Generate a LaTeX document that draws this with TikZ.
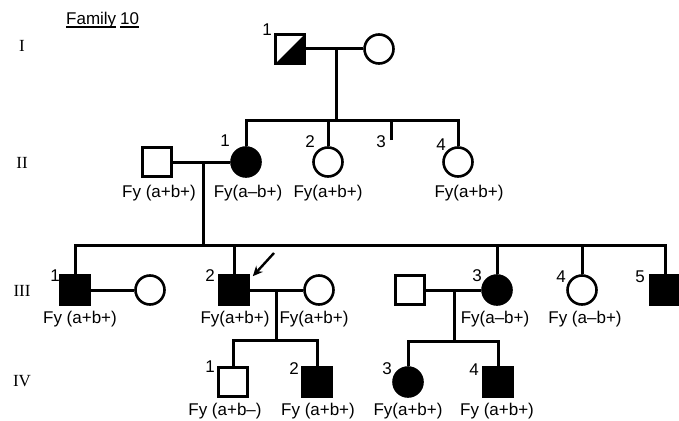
\documentclass[tikz,border=0pt]{standalone}
\usepackage{fontspec}
\setmainfont{Liberation Sans}
\newfontfamily\romf{Liberation Serif}
\usetikzlibrary{arrows.meta}
\begin{document}
\begin{tikzpicture}[x=1pt,y=-1pt,
  male/.style={draw, line width=2.6pt, rectangle, minimum size=29pt, inner sep=0pt},
  female/.style={draw, line width=2.6pt, circle, minimum size=29pt, inner sep=0pt},
  aff/.style={fill=black},
  num/.style={font=\fontsize{17}{17}\selectfont, inner sep=0pt},
  fy/.style={font=\fontsize{17}{17}\selectfont, inner sep=0pt},
  gen/.style={font=\romf\fontsize{17}{17}\selectfont, inner sep=0pt},
  conn/.style={line width=3pt}]
\useasboundingbox (0,0) rectangle (679,420);

% title
\node[fy, anchor=base west] (fam) at (66,25) {Family};
\node[fy, anchor=base west] (ten) at (120,25) {10};
\draw[line width=1.5pt] ([yshift=-2pt]fam.base west) -- ([yshift=-2pt]fam.base east);
\draw[line width=1.5pt] ([yshift=-2pt]ten.base west) -- ([yshift=-2pt]ten.base east);

% generation labels
\node[gen] (gI) at (22,46) {I};
\node[gen] (gII) at (22,163) {II};
\node[gen] (gIII) at (22,291) {III};
\node[gen] (gIV) at (22,381) {IV};

% Generation I
\node[male] (i1) at (290,49) {};
\fill (i1.south west) -- (i1.south east) -- (i1.north east) -- cycle;
\node[female] (i2) at (379,49) {};
\node[num] (n-i1) at (267,30) {1};
\draw[conn] (i1.east) -- (i2.west);
\coordinate (m1) at (336,49);
\coordinate (s2) at (336,120);
\draw[conn] (m1) -- (s2);

% Generation II
\node[male] (ii0) at (157,162) {};
\node[female, aff] (ii1) at (246,162) {};
\node[female] (ii2) at (328,162) {};
\coordinate (ii3) at (391,140);
\node[female] (ii4) at (458,162) {};
\draw[conn] (ii1.north) -- (ii1.north |- s2) -- (ii4.north |- s2) -- (ii4.north);
\draw[conn] (ii2.north) -- (ii2.north |- s2);
\draw[conn] (ii3) -- (ii3 |- s2);
\draw[conn] (ii0.east) -- (ii1.west);
\node[num] (n-ii1) at (225,141) {1};
\node[num] (n-ii2) at (310,142) {2};
\node[num] (n-ii3) at (381,142) {3};
\node[num] (n-ii4) at (441,145) {4};
\node[fy] (f-ii0) at (159,193) {Fy (a+b+)};
\node[fy] (f-ii1) at (248,193) {Fy(a–b+)};
\node[fy] (f-ii2) at (328,193) {Fy(a+b+)};
\node[fy] (f-ii4) at (469,193) {Fy(a+b+)};
\coordinate (m2) at (203,162);
\coordinate (s3) at (203,245);
\draw[conn] (m2) -- (s3);

% Generation III
\node[male, aff] (iii1) at (75,290) {};
\node[female] (iii1s) at (150,290) {};
\node[male, aff] (iii2) at (234,290) {};
\node[female] (iii2s) at (319,290) {};
\node[male] (iii3s) at (410,290) {};
\node[female, aff] (iii3) at (497,290) {};
\node[female] (iii4) at (582,290) {};
\node[male, aff] (iii5) at (665,290) {};
\draw[conn] (iii1.north) -- (iii1.north |- s3) -- (iii5.north |- s3) -- (iii5.north);
\draw[conn] (iii2.north) -- (iii2.north |- s3);
\draw[conn] (iii3.north) -- (iii3.north |- s3);
\draw[conn] (iii4.north) -- (iii4.north |- s3);
\draw[conn] (iii1.east) -- (iii1s.west);
\draw[conn] (iii2.east) -- (iii2s.west);
\draw[conn] (iii3s.east) -- (iii3.west);
\node[num] (n-iii1) at (55,276) {1};
\node[num] (n-iii2) at (210,276) {2};
\node[num] (n-iii3) at (477,276) {3};
\node[num] (n-iii4) at (561,277) {4};
\node[num] (n-iii5) at (640,277) {5};
\node[fy] (f-iii1) at (80,319) {Fy (a+b+)};
\node[fy] (f-iii2) at (235,319) {Fy(a+b+)};
\node[fy] (f-iii2s) at (314,319) {Fy(a+b+)};
\node[fy] (f-iii3) at (495,319) {Fy(a–b+)};
\node[fy] (f-iii4) at (585,319) {Fy (a–b+)};
\coordinate (arr) at (274,253);
\draw[line width=2.4pt, -{Stealth[length=10pt,width=9pt]}] (arr) -- ([shift={(3pt,-2pt)}]iii2.north east);

\coordinate (m3) at (276,290);
\coordinate (s4a) at (276,340);
\draw[conn] (m3) -- (s4a);
\coordinate (m4) at (454,290);
\coordinate (s4b) at (454,341);
\draw[conn] (m4) -- (s4b);

% Generation IV
\node[male] (iv1) at (233,382) {};
\node[male, aff] (iv2) at (317,382) {};
\node[female, aff] (iv3) at (408,382) {};
\node[male, aff] (iv4) at (498,382) {};
\draw[conn] (iv1.north) -- (iv1.north |- s4a) -- (iv2.north |- s4a) -- (iv2.north);
\draw[conn] (iv3.north) -- (iv3.north |- s4b) -- (iv4.north |- s4b) -- (iv4.north);
\node[num] (n-iv1) at (210,367) {1};
\node[num] (n-iv2) at (294,369) {2};
\node[num] (n-iv3) at (387,369) {3};
\node[num] (n-iv4) at (474,370) {4};
\node[fy] (f-iv1) at (225,411) {Fy (a+b–)};
\node[fy] (f-iv2) at (318,411) {Fy (a+b+)};
\node[fy] (f-iv3) at (408,411) {Fy(a+b+)};
\node[fy] (f-iv4) at (497,411) {Fy (a+b+)};
\end{tikzpicture}
\end{document}
